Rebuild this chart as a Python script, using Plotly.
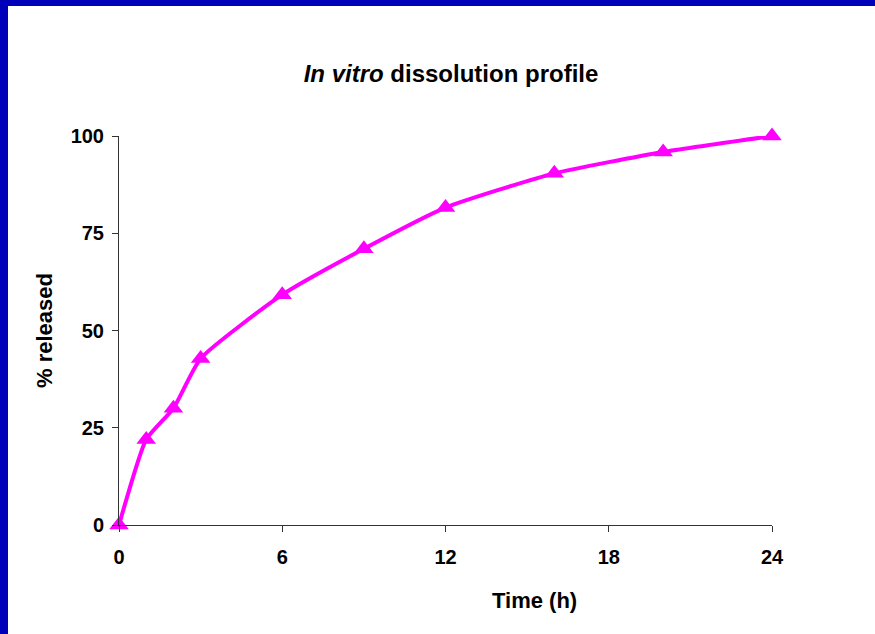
import plotly.graph_objects as go

# Dissolution data: time (h) and cumulative % released
time_h = [0, 1, 2, 3, 6, 9, 12, 16, 20, 24]
released_pct = [0, 22, 30, 42.8, 59.2, 71, 81.6, 90.4, 95.9, 100]

x_ticks = [0, 6, 12, 18, 24]
y_ticks = [0, 25, 50, 75, 100]

W, H = 875, 634
ML, MR, MT, MB = 119, 103, 136, 109
PW, PH = W - ML - MR, H - MT - MB

def px_x(px):
    return (px - ML) / PW

def px_y(py):
    return (H - MB - py) / PH

FONT = "Liberation Sans, Arial, sans-serif"
MAGENTA = "#FF00FF"
BLUE = "#0000BB"

fig = go.Figure()
fig.add_trace(go.Scatter(
    x=time_h, y=released_pct,
    mode="lines+markers",
    line=dict(color=MAGENTA, width=4, shape="spline", smoothing=0.5),
    marker=dict(symbol="triangle-up", size=17, color=MAGENTA),
    cliponaxis=False,
    showlegend=False,
))

axis_common = dict(
    showline=True, linecolor="#333333", linewidth=1,
    ticks="outside", ticklen=6, tickcolor="#333333", tickwidth=1,
    showgrid=False, zeroline=False,
    tickfont=dict(family=FONT, size=20, color="black", weight="bold"),
)

fig.update_xaxes(
    range=[0, 24], tickvals=x_ticks, ticktext=[str(v) for v in x_ticks],
    ticklabelstandoff=8,
    **axis_common,
)
fig.update_yaxes(
    range=[0, 100], tickvals=y_ticks, ticktext=[str(v) for v in y_ticks],
    ticklabelstandoff=4,
    **axis_common,
)

fig.update_layout(
    width=W, height=H,
    margin=dict(l=ML, r=MR, t=MT, b=MB, autoexpand=False),
    paper_bgcolor="white", plot_bgcolor="white",
    title=dict(text="<b><i>In vitro</i> dissolution profile</b>",
               font=dict(family=FONT, size=24, color="black"),
               x=px_x(451), xref="paper", xanchor="center",
               y=1 - 74 / H, yref="container", yanchor="middle"),
    annotations=[
        dict(text="<b>Time (h)</b>", xref="paper", yref="paper",
             x=px_x(534), y=px_y(600), xanchor="center", yanchor="middle",
             showarrow=False, font=dict(family=FONT, size=22, color="black")),
        dict(text="<b>% released</b>", xref="paper", yref="paper",
             x=px_x(44), y=px_y(331), xanchor="center", yanchor="middle",
             textangle=-90, showarrow=False,
             font=dict(family=FONT, size=22, color="black")),
    ],
    shapes=[
        dict(type="rect", xref="paper", yref="paper",
             x0=px_x(0), x1=px_x(8), y0=px_y(H), y1=px_y(0),
             fillcolor=BLUE, line=dict(width=0), layer="above"),
        dict(type="rect", xref="paper", yref="paper",
             x0=px_x(0), x1=px_x(W), y0=px_y(6), y1=px_y(0),
             fillcolor=BLUE, line=dict(width=0), layer="above"),
    ],
)

fig.write_html("out.html")
